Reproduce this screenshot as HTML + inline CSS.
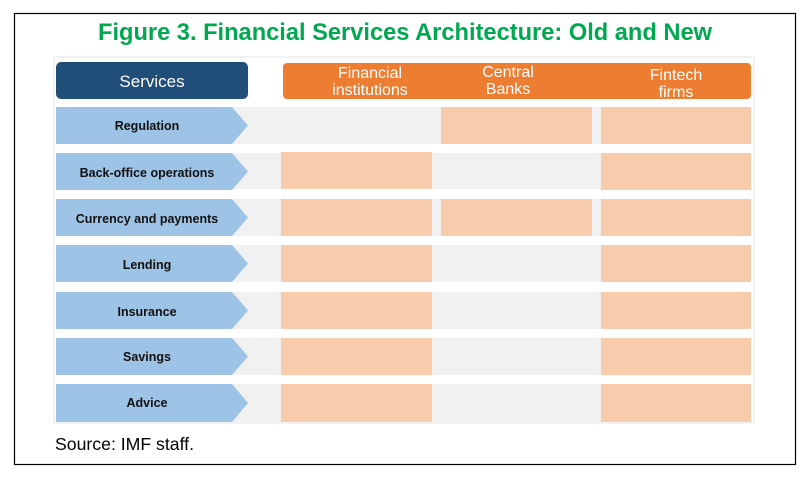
<!DOCTYPE html>
<html><head><style>html,body{margin:0;padding:0;background:#fff}</style></head>
<body>
<svg width="806" height="472" xmlns="http://www.w3.org/2000/svg" font-family="Liberation Sans, sans-serif">
<rect x="14.5" y="13.5" width="781" height="451" fill="#fff" stroke="#000" stroke-width="1.2"/>
<text x="405" y="40" text-anchor="middle" font-size="24" font-weight="bold" fill="#00a94f" textLength="614" lengthAdjust="spacingAndGlyphs">Figure 3. Financial Services Architecture: Old and New</text>
<rect x="54" y="57" width="700" height="366" fill="#fff" stroke="#eeeeee" stroke-width="1.5"/>
<rect x="56" y="62" width="192" height="37" rx="5" fill="#1f4e79"/>
<text x="152" y="87" text-anchor="middle" font-size="17" fill="#fff">Services</text>
<rect x="283" y="63" width="468" height="36" rx="4" fill="#ed7d31"/>
<g fill="#fff" font-size="16" text-anchor="middle">
<text x="370" y="78">Financial</text><text x="370" y="95">institutions</text>
<text x="508" y="77">Central</text><text x="508" y="94">Banks</text>
<text x="676" y="80">Fintech</text><text x="676" y="97">firms</text>
</g>
<g>
<rect x="230" y="107" width="521" height="37" fill="#f1f1f1"/>
<polygon points="56,107 232,107 248,125.5 232,144 56,144" fill="#9dc3e6"/>
<rect x="441" y="107" width="151" height="37" fill="#f8cbad"/><rect x="601" y="107" width="150" height="37" fill="#f8cbad"/>
<text x="147" y="130" font-size="12.5" font-weight="bold" text-anchor="middle" fill="#111">Regulation</text>
<rect x="230" y="153" width="521" height="36" fill="#f1f1f1"/>
<polygon points="56,153 232,153 248,171.5 232,190 56,190" fill="#9dc3e6"/>
<rect x="281" y="152" width="151" height="37" fill="#f8cbad"/><rect x="601" y="153" width="150" height="37" fill="#f8cbad"/>
<text x="147" y="177" font-size="12.5" font-weight="bold" text-anchor="middle" fill="#111">Back-office operations</text>
<rect x="230" y="199" width="521" height="37" fill="#f1f1f1"/>
<polygon points="56,199 232,199 248,217.5 232,236 56,236" fill="#9dc3e6"/>
<rect x="281" y="199" width="151" height="37" fill="#f8cbad"/><rect x="441" y="199" width="151" height="37" fill="#f8cbad"/><rect x="601" y="199" width="150" height="37" fill="#f8cbad"/>
<text x="147" y="223" font-size="12.5" font-weight="bold" text-anchor="middle" fill="#111">Currency and payments</text>
<rect x="230" y="245" width="521" height="37" fill="#f1f1f1"/>
<polygon points="56,245 232,245 248,263.5 232,282 56,282" fill="#9dc3e6"/>
<rect x="281" y="245" width="151" height="37" fill="#f8cbad"/><rect x="601" y="245" width="150" height="37" fill="#f8cbad"/>
<text x="147" y="269" font-size="12.5" font-weight="bold" text-anchor="middle" fill="#111">Lending</text>
<rect x="230" y="292" width="521" height="37" fill="#f1f1f1"/>
<polygon points="56,292 232,292 248,310.5 232,329 56,329" fill="#9dc3e6"/>
<rect x="281" y="292" width="151" height="37" fill="#f8cbad"/><rect x="601" y="292" width="150" height="37" fill="#f8cbad"/>
<text x="147" y="316" font-size="12.5" font-weight="bold" text-anchor="middle" fill="#111">Insurance</text>
<rect x="230" y="338" width="521" height="37" fill="#f1f1f1"/>
<polygon points="56,338 232,338 248,356.5 232,375 56,375" fill="#9dc3e6"/>
<rect x="281" y="338" width="151" height="37" fill="#f8cbad"/><rect x="601" y="338" width="150" height="37" fill="#f8cbad"/>
<text x="147" y="361" font-size="12.5" font-weight="bold" text-anchor="middle" fill="#111">Savings</text>
<rect x="230" y="384" width="521" height="38" fill="#f1f1f1"/>
<polygon points="56,384 232,384 248,403 232,422 56,422" fill="#9dc3e6"/>
<rect x="281" y="384" width="151" height="38" fill="#f8cbad"/><rect x="601" y="384" width="150" height="38" fill="#f8cbad"/>
<text x="147" y="407" font-size="12.5" font-weight="bold" text-anchor="middle" fill="#111">Advice</text>
</g>
<text x="55" y="450" font-size="17.5" fill="#000" textLength="139" lengthAdjust="spacingAndGlyphs">Source: IMF staff.</text>
</svg>
</body></html>
